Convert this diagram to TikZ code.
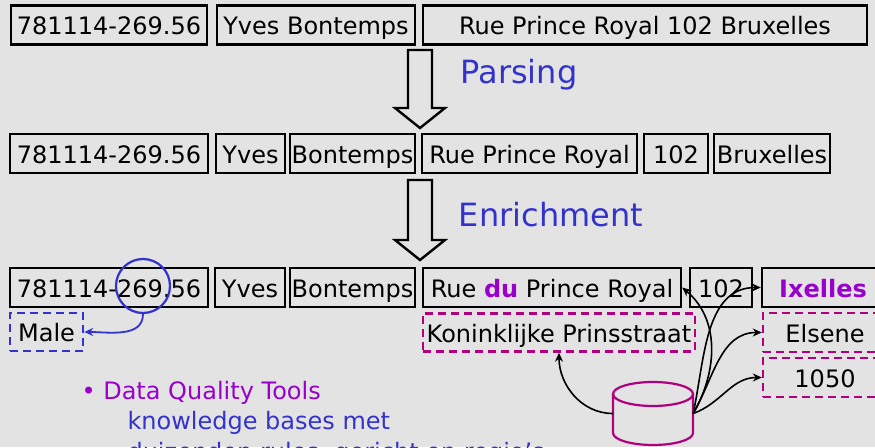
\documentclass[tikz,border=0pt]{standalone}
\usepackage{fontspec}
\setmainfont{DejaVu Sans}
\usetikzlibrary{arrows.meta}
\definecolor{bgc}{HTML}{E3E3E3}
\definecolor{blu}{HTML}{3333CC}
\definecolor{pur}{HTML}{9900CC}
\definecolor{mag}{HTML}{B0007D}
\begin{document}
\begin{tikzpicture}[
    x=1pt,y=1pt,
    fld/.style={draw, line width=2.4pt, inner sep=0pt, minimum height=39pt, text height=23pt, text depth=3pt, font=\fontsize{24}{28}\selectfont},
    newfld/.style={fld, dash pattern=on 8pt off 5pt},
    blk/.style={draw, line width=2.4pt, line join=miter},
    kbarr/.style={line width=1.6pt, -{Stealth[length=9pt,width=8pt]}},
    txt/.style={font=\fontsize{24}{28}\selectfont, anchor=base west}
    ]
  \useasboundingbox (0,0) rectangle (875,447);
  \clip (0,0) rectangle (875,447);
  \fill[bgc] (0,0) rectangle (875,447);
  \node[fld, minimum width=196pt] (r1a) at (109,422) {781114-269.56};
  \node[fld, minimum width=198pt] (r1b) at (316,422) {Yves Bontemps};
  \node[fld, minimum width=444pt] (r1c) at (645,422) {Rue Prince Royal 102 Bruxelles};
  \draw[blk] (408,397) -- (432,397) -- (432,339) -- (445,339) -- (420,319) -- (395,339) -- (408,339) -- cycle;
  \node[blu, font=\fontsize{32}{38}\selectfont] (parse) at (519,372) {Parsing};
  \node[fld, minimum width=198pt] (r2a) at (109,293.5) {781114-269.56};
  \node[fld, minimum width=69pt] (r2b) at (250.5,293.5) {Yves};
  \node[fld, minimum width=125pt] (r2c) at (352.5,293.5) {Bontemps};
  \node[fld, minimum width=215pt] (r2d) at (529.5,293.5) {Rue Prince Royal};
  \node[fld, minimum width=64pt] (r2e) at (676,293.5) {102};
  \node[fld, minimum width=116pt] (r2f) at (772,293.5) {Bruxelles};
  \draw[blk] (408,267) -- (432,267) -- (432,207) -- (445,207) -- (420,187) -- (395,207) -- (408,207) -- cycle;
  \node[blu, font=\fontsize{32}{38}\selectfont] (enrich) at (551,232) {Enrichment};
  \node[fld, minimum width=198pt] (r3a) at (109,159.5) {781114-269.56};
  \node[fld, minimum width=70pt] (r3b) at (250,159.5) {Yves};
  \node[fld, minimum width=125pt] (r3c) at (352.5,159.5) {Bontemps};
  \node[fld, minimum width=258pt] (r3d) at (552,159.5) {Rue {\bfseries\color{pur}du} Prince Royal};
  \node[fld, minimum width=62pt] (r3e) at (721,159.5) {102};
  \node[fld, minimum width=122pt] (r3f) at (823,159.5) {\bfseries\color{pur}Ixelles};
  \node[circle, draw=blu, line width=2.2pt, minimum size=54pt, inner sep=0pt] (c269) at (143,161) {};
  \node[newfld, draw=blu, minimum width=73pt, minimum height=38pt] (male) at (46.5,115) {Male};
  \node[newfld, draw=mag, minimum width=272pt, minimum height=38pt] (kon) at (559,114.5) {Koninklijke Prinsstraat};
  \node[newfld, draw=mag, minimum width=124pt] (els) at (825,114.5) {Elsene};
  \node[newfld, draw=mag, minimum width=124pt] (num) at (825,69.5) {1050};
  \draw[blu, line width=1.8pt, -{Stealth[length=9pt,width=8pt]}] (c269.south) to[out=-90, in=0] (male.east);
  \node[minimum width=80pt, minimum height=63pt, inner sep=0pt] (kb) at (653,33.5) {};
  \draw[mag, line width=2.2pt] (653,53) ellipse [x radius=40, y radius=12];
  \draw[mag, line width=2.2pt] (613,53) -- (613,14) arc[start angle=180, end angle=360, x radius=40, y radius=12] -- (693,53);
  \draw[kbarr] (kb.east) to[out=60, in=-40] (r3d.east);
  \draw[kbarr] (kb.east) to[out=78, in=180] (r3f.west);
  \draw[kbarr] (kb.east) to[out=60, in=180] (els.west);
  \draw[kbarr] (kb.east) to[out=20, in=180] (num.west);
  \draw[kbarr] (kb.west) to[out=180, in=-90] (kon.south);
  \node[txt, pur] (dqt) at (78,48) {\textbullet\ Data Quality Tools};
  \node[txt, blu] (kbtxt) at (124,17) {knowledge bases met};
  \node[txt, blu] (rules) at (124,-13) {duizenden rules, gericht op regio's};
\end{tikzpicture}
\end{document}
